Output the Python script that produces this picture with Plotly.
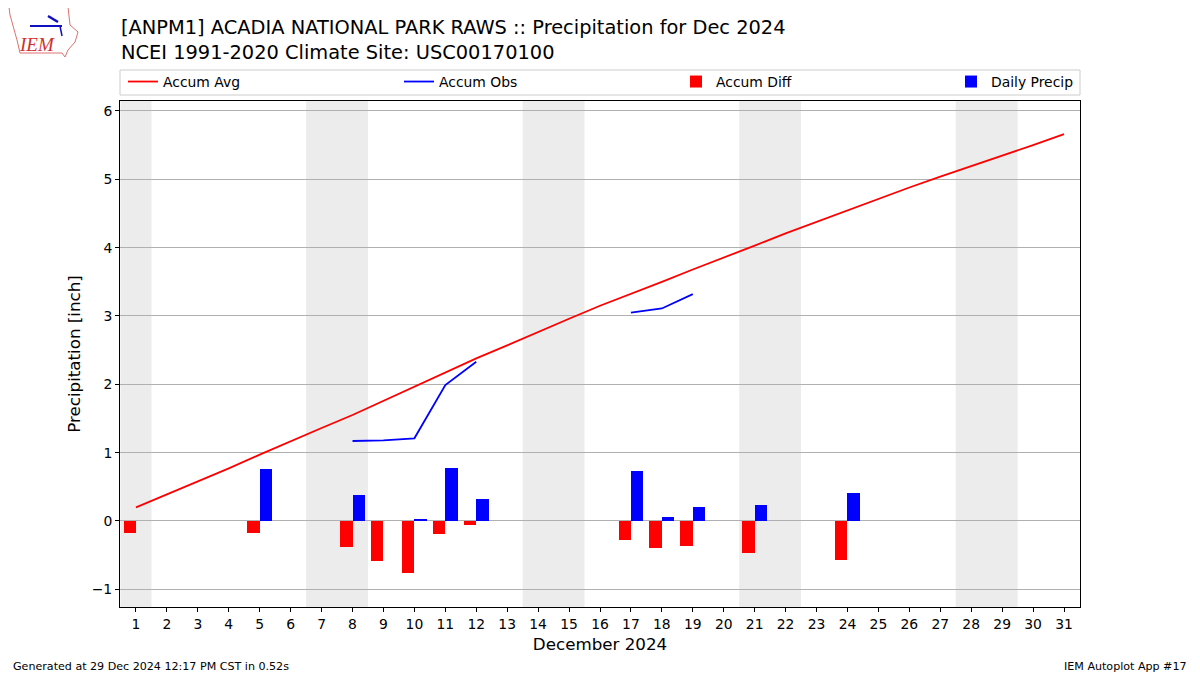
import plotly.graph_objects as go

days = list(range(1, 32))
accum_avg = [0.20, 0.39, 0.57, 0.77, 0.97, 1.17, 1.36, 1.55, 1.76, 1.97,
             2.18, 2.38, 2.57, 2.77, 2.96, 3.15, 3.32, 3.50, 3.68, 3.85,
             4.03, 4.21, 4.38, 4.55, 4.71, 4.88, 5.04, 5.19, 5.35, 5.50, 5.66]
accum_obs = [None, None, None, None, None, None, None, 1.17, 1.18, 1.21,
             1.99, 2.33, None, None, None, None, 3.05, 3.11, 3.32, None,
             None, None, None, None, None, None, None, None, None, None, None]
accum_diff = [-0.18, None, None, None, -0.18, None, None, -0.38, -0.585, -0.76,
              -0.19, -0.06, None, None, None, None, -0.28, -0.395, -0.365, None,
              -0.47, None, None, -0.57, None, None, None, None, None, None, None]
daily_precip = [None, None, None, None, 0.76, None, None, 0.38, None, 0.03,
                0.775, 0.32, None, None, None, None, 0.73, 0.06, 0.205, None,
                0.235, None, None, 0.41, None, None, None, None, None, None, None]
weekends = [(0.5, 1.5), (6.5, 8.5), (13.5, 15.5), (20.5, 22.5), (27.5, 29.5)]
tick_labels = [str(d) for d in days]

title_text = ("[ANPM1] ACADIA NATIONAL PARK RAWS :: Precipitation for Dec 2024<br>"
              "NCEI 1991-2020 Climate Site: USC00170100")

# page offset (body margin) compensation: figure coords = window coords - 8
OFF = 8
W, H = 1200, 675
ML, MR, MT, MB = 120 - OFF, W - (1080 - OFF), 101 - OFF, H - (607 - OFF)
PW = W - ML - MR
PH = H - MT - MB


def px(xw):
    return (xw - OFF - ML) / PW


def py(yw):
    return (H - MB - (yw - OFF)) / PH


fig = go.Figure()
fig.add_trace(go.Scatter(x=days, y=accum_avg, mode="lines", name="Accum Avg",
                         line=dict(color="red", width=1.8), legend="legend"))
fig.add_trace(go.Scatter(x=days, y=accum_obs, mode="lines", name="Accum Obs",
                         line=dict(color="blue", width=1.8), connectgaps=False, legend="legend2"))
fig.add_trace(go.Bar(x=days, y=accum_diff, name="Accum Diff",
                     marker=dict(color="red", line=dict(width=0)),
                     width=0.4, offset=-0.4, legend="legend3"))
fig.add_trace(go.Bar(x=days, y=daily_precip, name="Daily Precip",
                     marker=dict(color="blue", line=dict(width=0)),
                     width=0.4, offset=0.0, legend="legend4"))

shapes = []
for a, b in weekends:
    shapes.append(dict(type="rect", xref="x", yref="y domain", x0=a, x1=b, y0=0, y1=1,
                       fillcolor="#ececec", line=dict(width=0), layer="below"))
# legend frame
shapes.append(dict(type="rect", xref="paper", yref="paper", x0=px(120), x1=px(1080),
                   y0=py(95), y1=py(70),
                   line=dict(color="#cccccc", width=1), fillcolor="rgba(0,0,0,0)"))
# rough state outline for logo (drawn as individual segments)
outline = [(9, 7), (68, 7), (70, 25), (78, 32), (75, 42), (68, 50), (65, 57),
           (62, 53), (20, 53), (17, 40), (15, 33), (12, 22), (10, 15), (9, 7)]
for (xa, ya), (xb, yb) in zip(outline[:-1], outline[1:]):
    shapes.append(dict(type="line", xref="paper", yref="paper",
                       x0=px(xa), y0=py(ya), x1=px(xb), y1=py(yb),
                       line=dict(color="#e07070", width=1)))
# station glyph for logo
shapes.append(dict(type="line", xref="paper", yref="paper", x0=px(30), x1=px(62),
                   y0=py(26), y1=py(26), line=dict(color="#1010c0", width=2)))
shapes.append(dict(type="line", xref="paper", yref="paper", x0=px(60), x1=px(62),
                   y0=py(26), y1=py(36), line=dict(color="#1010c0", width=1.5)))
shapes.append(dict(type="line", xref="paper", yref="paper", x0=px(48), x1=px(58),
                   y0=py(16), y1=py(22), line=dict(color="#1010c0", width=2.5)))

leg_common = dict(orientation="h", xanchor="left", yanchor="middle", y=py(82),
                  bgcolor="rgba(0,0,0,0)", font=dict(size=13.9), itemwidth=30)

fig.update_layout(
    width=W, height=H,
    margin=dict(l=ML, r=MR, t=MT, b=MB),
    paper_bgcolor="white", plot_bgcolor="white",
    font=dict(family="DejaVu Sans", color="black", size=13.9),
    barmode="overlay",
    bargap=0,
    showlegend=True,
    legend=dict(x=px(123), **leg_common),
    legend2=dict(x=px(399), **leg_common),
    legend3=dict(x=px(676), **leg_common),
    legend4=dict(x=px(951), **leg_common),
    shapes=shapes,
    xaxis=dict(range=[0.483, 31.517], tickmode="array", tickvals=days, ticktext=tick_labels,
               showgrid=False, zeroline=False, showline=True, linecolor="black", linewidth=1,
               mirror=True, ticks="outside", ticklen=4, tickcolor="black",
               title=dict(text="December 2024", font=dict(size=16.7), standoff=7),
               tickfont=dict(size=13.9)),
    yaxis=dict(range=[-1.259, 6.146], tickmode="array", tickvals=[-1, 0, 1, 2, 3, 4, 5, 6],
               ticktext=["\u22121", "0", "1", "2", "3", "4", "5", "6"],
               showgrid=True, gridcolor="#b0b0b0", gridwidth=1, zeroline=False,
               showline=True, linecolor="black", linewidth=1, mirror=True,
               ticks="outside", ticklen=4, tickcolor="black",
               title=dict(text="Precipitation [inch]", font=dict(size=16.7), standoff=6),
               tickfont=dict(size=13.9)),
)

fig.add_annotation(text=title_text, xref="paper", yref="paper", x=px(119), y=py(40),
                   xanchor="left", yanchor="middle", align="left", showarrow=False,
                   font=dict(size=19.4, family="DejaVu Sans"))
fig.add_annotation(text="Generated at 29 Dec 2024 12:17 PM CST in 0.52s", xref="paper", yref="paper",
                   x=px(11), y=py(666), xanchor="left", yanchor="middle",
                   showarrow=False, font=dict(size=11.1))
fig.add_annotation(text="IEM Autoplot App #17", xref="paper", yref="paper",
                   x=px(1189), y=py(666), xanchor="right", yanchor="middle",
                   showarrow=False, font=dict(size=11.1))
fig.add_annotation(text="<i>IEM</i>", xref="paper", yref="paper",
                   x=px(37), y=py(45), xanchor="center", yanchor="middle",
                   showarrow=False, font=dict(size=19, family="Liberation Serif", color="#d03030"))

fig.write_html("out.html")
